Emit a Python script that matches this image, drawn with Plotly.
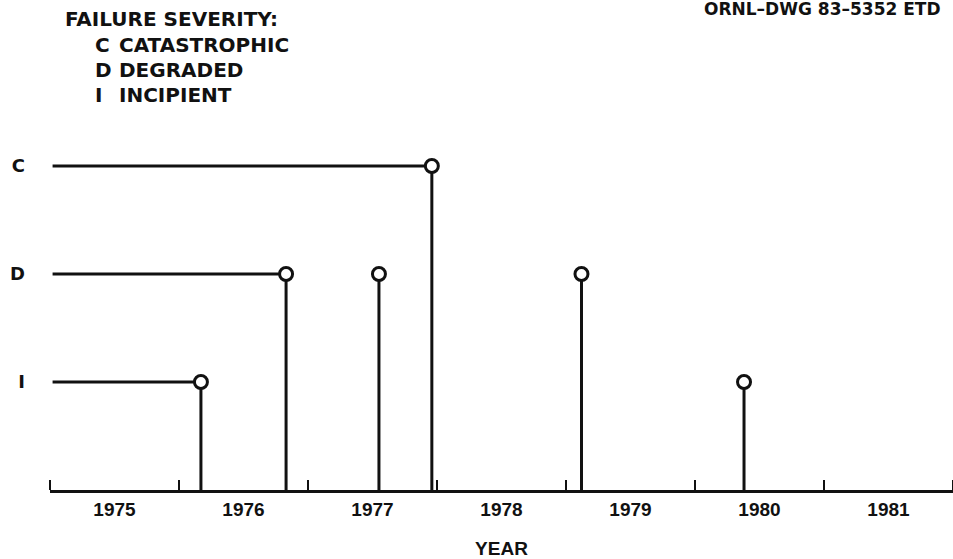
import plotly.graph_objects as go

# severity levels (y position, axis letter, legend word)
LEVEL_VALUES = [1, 2, 3]
LEVEL_LETTERS = ["I", "D", "C"]
LEVEL_WORDS = ["INCIPIENT", "DEGRADED", "CATASTROPHIC"]

# failure events: time (fractional year) and severity level
EVENT_TIMES = [1976.17, 1976.83, 1977.55, 1977.96, 1979.12, 1980.38]
EVENT_LEVELS = [1, 2, 2, 3, 2, 1]

# year labels sit in the middle of each year, ticks on year boundaries
YEARS = [1975, 1976, 1977, 1978, 1979, 1980, 1981]
YEAR_BOUNDS = [1975, 1976, 1977, 1978, 1979, 1980, 1981, 1982]
RECORD_START = 1975.02

INK = "#111111"
HEAD_FONT = "DejaVu Sans"
NUM_FONT = "Liberation Sans"

fig = go.Figure()

# line from start of record to first failure of each severity
for lev in LEVEL_VALUES:
    first = min(t for t, l in zip(EVENT_TIMES, EVENT_LEVELS) if l == lev)
    fig.add_trace(
        go.Scatter(
            x=[RECORD_START, first],
            y=[lev, lev],
            mode="lines",
            line=dict(color=INK, width=3),
            hoverinfo="skip",
            showlegend=False
        )
    )

# stems
stem_x, stem_y = [], []
for t, l in zip(EVENT_TIMES, EVENT_LEVELS):
    stem_x += [t, t, None]
    stem_y += [0, l, None]

fig.add_trace(
    go.Scatter(
        x=stem_x,
        y=stem_y,
        mode="lines",
        line=dict(color=INK, width=3),
        hoverinfo="skip",
        showlegend=False
    )
)

# open circles on top of the stems
fig.add_trace(
    go.Scatter(
        x=EVENT_TIMES,
        y=EVENT_LEVELS,
        mode="markers",
        marker=dict(
            symbol="circle",
            size=13,
            color="white",
            line=dict(color=INK, width=3)
        ),
        cliponaxis=False,
        showlegend=False
    )
)

fig.update_layout(
    width=953,
    height=559,
    margin=dict(l=50, r=0, t=58, b=69),
    paper_bgcolor="white",
    plot_bgcolor="white",
    showlegend=False,
    xaxis=dict(
        range=[1975, 1982],
        automargin=False,
        tickmode="array",
        tickvals=[y + 0.5 for y in YEARS],
        ticktext=[str(y) for y in YEARS],
        ticks="",
        showline=True,
        linewidth=3,
        linecolor=INK,
        showgrid=False,
        zeroline=False,
        tickfont=dict(family=NUM_FONT, size=19, color=INK, weight="bold"),
        minor=dict(
            tickmode="array",
            tickvals=YEAR_BOUNDS,
            ticks="inside",
            ticklen=10,
            tickwidth=2,
            tickcolor=INK,
            showgrid=False
        ),
        title=dict(
            text="YEAR",
            font=dict(family=NUM_FONT, size=19, color=INK, weight="bold"),
            standoff=23
        )
    ),
    yaxis=dict(
        range=[0, 4],
        automargin=False,
        tickmode="array",
        tickvals=LEVEL_VALUES,
        ticktext=LEVEL_LETTERS,
        ticks="",
        showline=False,
        showgrid=False,
        zeroline=False,
        ticklabelstandoff=24,
        tickfont=dict(family=HEAD_FONT, size=18, color=INK, weight="bold")
    )
)

# severity key in the upper left
head_font = dict(family=HEAD_FONT, size=20, color=INK, weight="bold")
fig.add_annotation(
    x=13 / 903, y=(490 - 19) / 432,
    xref="paper", yref="paper",
    text="FAILURE SEVERITY:",
    showarrow=False, xanchor="left", yanchor="middle",
    font=head_font
)
for i, (letter, word) in enumerate(zip(LEVEL_LETTERS[::-1], LEVEL_WORDS[::-1])):
    ypix = 45 + 25 * i
    fig.add_annotation(
        x=43 / 903, y=(490 - ypix) / 432,
        xref="paper", yref="paper",
        text=letter,
        showarrow=False, xanchor="left", yanchor="middle",
        font=head_font
    )
    fig.add_annotation(
        x=67 / 903, y=(490 - ypix) / 432,
        xref="paper", yref="paper",
        text=word,
        showarrow=False, xanchor="left", yanchor="middle",
        font=head_font
    )

# drawing number, top right
fig.add_annotation(
    x=893 / 903, y=(490 - 9) / 432,
    xref="paper", yref="paper",
    text="ORNL\u2013DWG 83\u20135352 ETD",
    showarrow=False, xanchor="right", yanchor="middle",
    font=dict(family=HEAD_FONT, size=17, color=INK, weight="bold")
)

# page has a default 8px body margin; drop it so the figure fills the window
fig.write_html(
    "out.html",
    config={"displayModeBar": False},
    post_script="document.body.style.margin='0';document.body.style.overflow='hidden';"
)
